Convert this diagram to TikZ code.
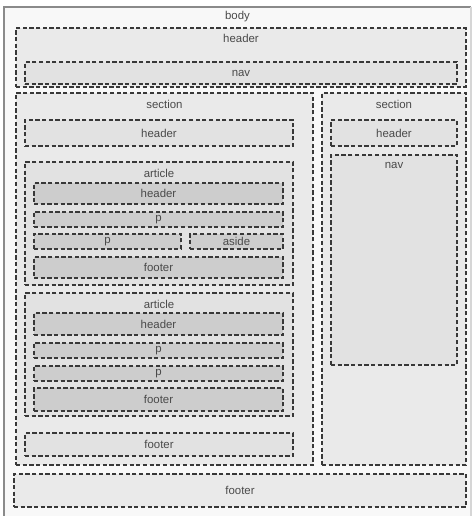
\documentclass[tikz,border=0pt]{standalone}
\usepackage{fontspec}
\setmainfont{Liberation Sans}
\usetikzlibrary{fit}
\definecolor{boxline}{HTML}{383838}
\definecolor{framegray}{HTML}{8A8A8A}
\definecolor{bodyfill}{HTML}{F8F8F8}
\definecolor{lvlone}{HTML}{EAEAEA}
\definecolor{lvltwo}{HTML}{E2E2E2}
\definecolor{lvlthree}{HTML}{CDCDCD}
\definecolor{txtgray}{HTML}{4A4A4A}

\begin{document}
\begin{tikzpicture}[
        x=0.02cm, y=-0.02cm,
        font=\fontsize{6.5}{7.5}\selectfont,
        every node/.style={inner sep=0pt, outer sep=0pt, text=txtgray},
        % ===== Estilos =====
        dbox/.style={rectangle, draw=boxline, line width=0.65pt,
                     dash pattern=on 2.4pt off 1.4pt},
        boxone/.style={dbox, fill=lvlone},
        boxtwo/.style={dbox, fill=lvltwo},
        boxthree/.style={dbox, fill=lvlthree},
        tag/.style={anchor=center}
    ]
        \useasboundingbox (0,0) rectangle (475,516);

        % ===== body =====
        \node[fit={(4,7) (471,520)}, fill=bodyfill] (body) {};
        \draw[framegray, line width=0.6pt] (body.south west) -- (body.north west) -- (body.north east);
        \draw[framegray!35, line width=0.6pt] (body.north east) -- (body.south east);
        \node[tag] at ([yshift=-0.20cm]body.north) {body};

        % ===== header + nav =====
        \node[boxone, fit={(16,28) (466,87)}] (bhead) {};
        \node[tag] at ([yshift=-0.20cm]bhead.north) {header};
        \node[boxtwo, fit={(25,62) (457,84)}] (bnav) {};
        \node[tag] at (bnav.center) {nav};

        % ===== sections =====
        \node[boxone, fit={(16,93) (313,465)}] (secL) {};
        \node[tag] at ([yshift=-0.22cm]secL.north) {section};
        \node[boxone, fit={(322,93) (466,465)}] (secR) {};
        \node[tag] at ([yshift=-0.22cm]secR.north) {section};

        \node[boxtwo, fit={(331,155) (457,365)}] (secRnav) {};
        \node[tag] at ([yshift=-0.20cm]secRnav.north) {nav};

        % ===== articles =====
        \foreach \a/\top/\bot in {1/162/285, 2/293/416}{
            \node[boxtwo, fit={(25,\top) (293,\bot)}] (art\a) {};
            \node[tag] at ([yshift=-0.22cm]art\a.north) {article};
        }

        % ===== Cajas simples (nombre/x1/y1/x2/y2/estilo/texto) =====
        \foreach \nm/\xa/\ya/\xb/\yb/\st/\txt in {%
            secLhead/25/120/293/146/boxtwo/header,
            secRhead/331/120/457/146/boxtwo/header,
            artAhead/34/183/283/204/boxthree/header,
            artApone/34/212/283/227/boxthree/p,
            artAptwo/34/234/181/249/boxthree/p,
            artAaside/190/234/283/249/boxthree/aside,
            artAfoot/34/257/283/278/boxthree/footer,
            artBhead/34/313/283/335/boxthree/header,
            artBpone/34/343/283/358/boxthree/p,
            artBptwo/34/366/283/381/boxthree/p,
            artBfoot/34/388/283/411/boxthree/footer,
            secLfoot/25/433/293/456/boxtwo/footer,
            bfoot/14/474/466/507/boxone/footer%
        }{
            \node[\st, fit={(\xa,\ya) (\xb,\yb)}] (\nm) {};
            \node[tag] at (\nm.center) {\txt};
        }
    \end{tikzpicture}
\end{document}
